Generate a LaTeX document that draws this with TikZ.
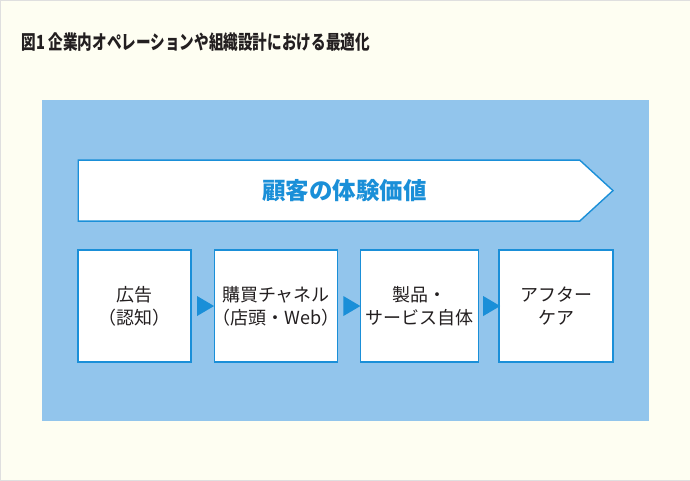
\documentclass[tikz,border=0pt]{standalone}
\usepackage{fontspec}
\setmainfont{Noto Sans CJK JP}
\newfontfamily\titlefont[FakeStretch=0.75]{Noto Sans CJK JP}
\usetikzlibrary{positioning,shapes.geometric,shapes.symbols}

\definecolor{paper}{HTML}{FEFEF2}
\definecolor{panelblue}{HTML}{92C5EC}
\definecolor{lineblue}{HTML}{1A8FD8}
\definecolor{inkgray}{HTML}{231F20}

\begin{document}
\begin{tikzpicture}[x=1pt, y=-1pt,
    % Styles
    panel_bg/.style={rectangle, fill=panelblue, minimum width=607pt, minimum height=321pt,
                     inner sep=0pt},
    value_banner/.style={signal, signal to=east, signal pointer angle=85, draw=lineblue,
                         fill=white, line width=1.4pt, minimum width=535pt, minimum height=61pt,
                         inner sep=0pt, font=\fontsize{23.5}{28}\selectfont\bfseries, text=lineblue},
    step_box/.style={rectangle, draw=lineblue, fill=white, line width=1.4pt,
                     minimum height=112pt, inner sep=0pt, align=center,
                     font=\fontsize{18}{23}\selectfont, text=inkgray},
    flow_tri/.style={isosceles triangle, isosceles triangle stretches, fill=lineblue,
                     inner sep=0pt, minimum width=20pt, minimum height=17pt},
    node distance=22pt
]

% Page
\fill[paper, draw=gray!25] (0,0) rectangle (690,480);
\useasboundingbox (0,0) rectangle (690,480);

% Title
\node[anchor=west, font=\titlefont\fontsize{19.5}{22}\selectfont\bfseries, text=inkgray] (title) at (18,42)
    {図1 企業内オペレーションや組織設計における最適化};

% Blue panel
\node[panel_bg] (panel) at (345.5,260.5) {};

% Banner (text shifted to sit in the middle of the whole arrow)
\node[value_banner] (value) at (329,190.5) {\hspace*{31pt}顧客の体験価値};

% Steps
\node[step_box, minimum width=113pt] (ad) at (134.5,306) {広告\\（認知）};
\node[step_box, minimum width=123pt, right=22pt of ad] (channel)
    {購買チャネル\\\makebox[121pt]{（店頭・Web）}};
\node[step_box, minimum width=118pt, right=of channel] (product) {製品・\\サービス自体};
\node[step_box, minimum width=114pt, right=19pt of product] (aftercare) {アフター\\ケア};

% Flow markers
\path (ad) -- (channel) node[midway, flow_tri] (tri1) {};
\path (channel) -- (product) node[midway, flow_tri] (tri2) {};
\path (product) -- (aftercare) node[midway, flow_tri] (tri3) {};

\end{tikzpicture}
\end{document}
